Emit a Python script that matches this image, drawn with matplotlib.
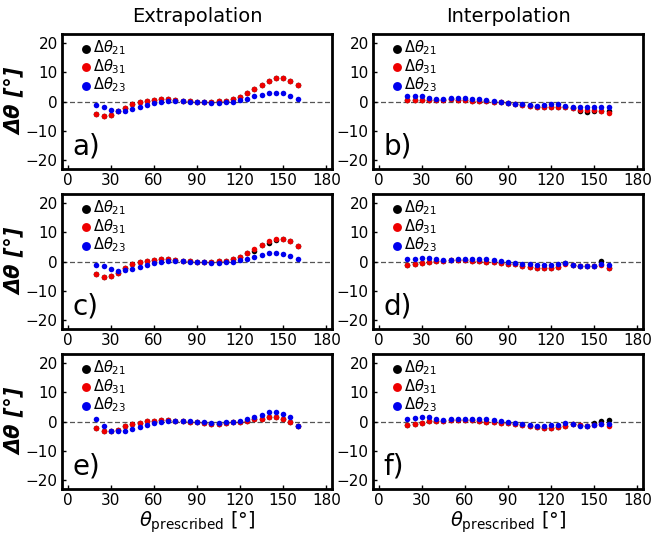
import matplotlib
matplotlib.use("Agg")
import matplotlib.pyplot as plt
import numpy as np

plt.rcParams['font.family'] = ['DejaVu Sans']
plt.rcParams['mathtext.fontset'] = 'dejavusans'

theta = np.arange(20, 161, 5)

# panel a) extrapolation
a_21 = [-4.2, -5.1, -4.7, -3.4, -2.3, -1.0, -0.3, 0.2, 0.6, 0.8, 0.8, 0.6, 0.2, 0.1, 0.0,
        -0.1, -0.1, 0.1, 0.2, 0.8, 1.7, 2.8, 4.2, 5.8, 7.2, 8.1, 8.1, 7.2, 5.6]
a_31 = [-4.2, -5.1, -4.7, -3.4, -2.3, -1.0, -0.3, 0.2, 0.6, 0.8, 0.8, 0.6, 0.2, 0.1, 0.0,
        -0.1, -0.1, 0.1, 0.2, 0.8, 1.7, 2.8, 4.2, 5.8, 7.2, 8.1, 8.1, 7.2, 5.6]
a_23 = [-1.25, -1.9, -2.8, -3.4, -3.2, -2.7, -2.0, -1.25, -0.6, 0.0, 0.1, 0.2, 0.1, 0.0, -0.1,
        -0.3, -0.45, -0.45, -0.2, 0.0, 0.45, 0.8, 1.8, 2.4, 3.0, 3.0, 2.8, 1.8, 1.0]

# panel b) interpolation
b_21 = [0.5, 0.6, 0.6, 0.5, 0.4, 0.5, 0.7, 0.6, 0.5, 0.3, 0.2, 0.1, 0.0, -0.2, -0.5,
        -0.8, -1.1, -1.5, -1.8, -2.0, -2.0, -1.9, -1.8, -2.4, -3.3, -3.7, -3.4, -3.1, -3.3]
b_31 = [0.5, 0.6, 0.6, 0.5, 0.4, 0.5, 0.7, 0.6, 0.5, 0.3, 0.2, 0.1, 0.0, -0.2, -0.5,
        -0.8, -1.1, -1.5, -1.8, -2.0, -2.0, -1.9, -1.8, -2.2, -2.9, -3.0, -3.0, -3.4, -3.8]
b_23 = [1.8, 2.0, 1.8, 1.1, 0.7, 0.7, 1.1, 1.1, 1.1, 0.9, 0.7, 0.45, 0.1, -0.1, -0.45,
        -0.7, -1.0, -1.1, -1.4, -1.1, -1.0, -0.7, -1.7, -1.9, -2.0, -1.8, -1.9, -1.9, -1.8]

# panel c) extrapolation
c_21 = [-4.4, -5.4, -4.9, -4.0, -2.4, -1.0, -0.2, 0.3, 0.6, 0.8, 0.8, 0.6, 0.3, 0.1, 0.0,
        -0.1, -0.1, 0.1, 0.2, 0.7, 1.6, 2.8, 3.7, 5.6, 6.5, 7.3, 7.6, 6.9, 5.3]
c_31 = [-4.4, -5.4, -4.9, -3.8, -2.4, -1.0, -0.2, 0.3, 0.6, 0.8, 0.8, 0.6, 0.3, 0.1, 0.0,
        -0.1, -0.1, 0.1, 0.2, 0.7, 1.6, 2.8, 4.3, 5.8, 7.0, 7.8, 7.7, 6.9, 5.3]
c_23 = [-1.1, -1.7, -2.6, -3.1, -3.0, -2.6, -2.0, -1.2, -0.6, 0.0, 0.1, 0.2, 0.1, 0.0, -0.1,
        -0.3, -0.45, -0.45, -0.2, 0.0, 0.5, 0.9, 1.6, 2.2, 2.8, 2.8, 2.6, 1.8, 0.9]

# panel d) interpolation
d_21 = [-1.2, -1.0, -0.4, 0.0, 0.2, 0.2, 0.4, 0.5, 0.5, 0.3, 0.1, -0.1, -0.3, -0.5, -0.7,
        -1.0, -1.5, -1.9, -2.2, -2.4, -2.3, -1.9, -0.5, -1.2, -1.4, -1.5, -1.4, 0.2, -2.4]
d_31 = [-1.2, -1.0, -0.4, 0.0, 0.2, 0.2, 0.4, 0.5, 0.5, 0.3, 0.1, -0.1, -0.3, -0.5, -0.7,
        -1.0, -1.5, -1.9, -2.2, -2.4, -2.3, -1.9, -1.0, -1.2, -1.4, -1.5, -1.4, -1.2, -2.4]
d_23 = [0.9, 1.0, 1.25, 1.25, 0.9, 0.45, 0.6, 0.8, 0.9, 0.9, 0.8, 0.7, 0.45, 0.2, 0.0,
        -0.45, -0.8, -1.0, -1.25, -1.25, -1.1, -0.9, -0.45, -1.1, -1.4, -1.4, -1.4, -1.0, -1.1]

# panel e) extrapolation
e_21 = [-2.4, -3.1, -3.3, -2.8, -1.7, -1.0, -0.5, 0.1, 0.3, 0.6, 0.6, 0.3, 0.1, -0.1, -0.2,
        -0.5, -0.7, -0.7, -0.6, -0.3, 0.0, 0.3, 0.7, 1.0, 1.5, 1.4, 0.8, -0.1, -1.5]
e_31 = [-2.4, -3.1, -3.3, -2.8, -1.7, -1.0, -0.5, 0.1, 0.3, 0.6, 0.6, 0.3, 0.1, -0.1, -0.2,
        -0.5, -0.7, -0.7, -0.6, -0.3, 0.0, 0.3, 0.7, 1.0, 1.5, 1.4, 0.8, -0.1, -1.5]
e_23 = [0.8, -1.7, -3.2, -3.4, -3.3, -2.7, -1.9, -1.1, -0.5, -0.1, 0.1, 0.1, 0.1, 0.1, -0.1,
        -0.3, -0.5, -0.5, -0.3, -0.1, 0.2, 1.0, 1.7, 2.4, 3.1, 3.1, 2.6, 1.6, -1.5]

# panel f) interpolation
f_21 = [-1.2, -0.9, -0.4, 0.1, 0.2, 0.1, 0.4, 0.6, 0.6, 0.4, 0.2, 0.0, -0.2, -0.4, -0.6,
        -0.9, -1.3, -1.7, -2.0, -2.3, -2.3, -2.0, -1.5, -1.0, -1.2, -1.4, -0.4, 0.2, 0.4]
f_31 = [-1.2, -0.9, -0.4, 0.1, 0.2, 0.1, 0.4, 0.6, 0.6, 0.4, 0.2, 0.0, -0.2, -0.4, -0.6,
        -0.9, -1.3, -1.7, -2.0, -2.3, -2.3, -2.0, -1.5, -1.0, -1.2, -1.4, -1.1, -1.0, -1.6]
f_23 = [1.0, 1.2, 1.5, 1.5, 1.0, 0.4, 0.7, 0.9, 1.0, 1.0, 0.8, 0.7, 0.5, 0.2, -0.1,
        -0.5, -0.9, -1.2, -1.4, -1.4, -1.3, -1.1, -0.6, -1.0, -1.4, -1.4, -1.2, -1.0, -1.0]

panels = [("a)", a_21, a_31, a_23), ("b)", b_21, b_31, b_23),
          ("c)", c_21, c_31, c_23), ("d)", d_21, d_31, d_23),
          ("e)", e_21, e_31, e_23), ("f)", f_21, f_31, f_23)]

W, H = 653, 542
fig = plt.figure(figsize=(W / 100, H / 100), dpi=100)

lefts = [62, 373]
tops = [34, 194, 354]
aw, ah = 270, 135

for i, (lab, d21, d31, d23) in enumerate(panels):
    row, col = divmod(i, 2)
    ax = fig.add_axes([lefts[col] / W, 1 - (tops[row] + ah) / H, aw / W, ah / H])
    ax.axhline(0, color="#555555", lw=0.9, ls=(0, (4, 2)), zorder=1)
    ax.scatter(theta, d21, s=16, color="black", lw=0, zorder=2, label=r"$\Delta\theta_{21}$")
    ax.scatter(theta, d31, s=16, color="#ee0000", lw=0, zorder=3, label=r"$\Delta\theta_{31}$")
    ax.scatter(theta, d23, s=16, color="#0000ee", lw=0, zorder=4, label=r"$\Delta\theta_{23}$")
    ax.set_xlim(-4, 184)
    ax.set_ylim(-23.2, 23.2)
    ax.set_xticks(range(0, 181, 30))
    ax.set_yticks([-20, -10, 0, 10, 20])
    ax.tick_params(direction="in", length=3, width=1, labelsize=11, pad=3)
    for sp in ax.spines.values():
        sp.set_linewidth(2.0)
    ax.legend(loc="upper left", bbox_to_anchor=(0.06, 1.0), frameon=False, fontsize=10.5,
              handlelength=0.5, handletextpad=0.2, labelspacing=0.0, borderaxespad=0.1,
              borderpad=0.2, markerscale=1.6)
    ax.text(0.04, 0.06, lab, transform=ax.transAxes, fontsize=20, ha="left", va="bottom")
    if col == 0:
        ax.set_ylabel("Δθ [°]", fontsize=15, fontweight="bold", fontstyle="italic", labelpad=1)
    if row == 2:
        ax.set_xlabel(r"$\theta_{\rm prescribed}$ [°]", fontsize=14, labelpad=1)
    if row == 0:
        ax.set_title(["Extrapolation", "Interpolation"][col], fontsize=14, pad=9)

fig.savefig("out.png", dpi=100)
